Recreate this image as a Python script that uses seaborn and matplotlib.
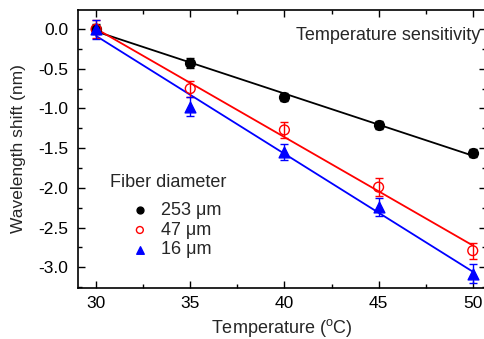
import numpy as np
import pandas as pd
import matplotlib
matplotlib.use("Agg")
import matplotlib.pyplot as plt
import seaborn as sns
from matplotlib.ticker import MultipleLocator, FormatStrFormatter

temps = [30, 35, 40, 45, 50]
series_names = ["253 \u03bcm", "47 \u03bcm", "16 \u03bcm"]
shift_253 = [0.0, -0.43, -0.855, -1.21, -1.565]
shift_47 = [0.0, -0.75, -1.27, -1.99, -2.79]
shift_16 = [0.0, -0.98, -1.55, -2.24, -3.08]
err_253 = [0.06, 0.06, 0.05, 0.05, 0.05]
err_47 = [0.11, 0.1, 0.1, 0.11, 0.1]
err_16 = [0.12, 0.12, 0.1, 0.11, 0.12]

sns.set_theme(style="ticks")
plt.rcParams['font.family'] = ['Liberation Sans', 'DejaVu Sans']
plt.rcParams['mathtext.fontset'] = 'custom'
plt.rcParams['mathtext.rm'] = 'Liberation Sans'
plt.rcParams['axes.unicode_minus'] = False

W, H = 484, 339
fig = plt.figure(figsize=(W / 100, H / 100), dpi=100)
ax = fig.add_axes([78 / W, 1 - 288 / H, 1.004 - 78 / W, (288 - 10) / H])

colors = ["black", "red", "blue"]
markers = ["o", "o", "^"]
facecols = ["black", "none", "blue"]
ys = [shift_253, shift_47, shift_16]
errs = [err_253, err_47, err_16]

for name, y, e, c, m, fc in zip(series_names, ys, errs, colors, markers, facecols):
    df = pd.DataFrame({"T": temps, "shift": y})
    sns.regplot(data=df, x="T", y="shift", scatter=False, ci=None, color=c,
                line_kws={"lw": 1.3}, truncate=True, ax=ax)
    ax.errorbar(temps, y, yerr=e, fmt="none", ecolor=c, elinewidth=1,
                capsize=3, capthick=1, zorder=3)
    ax.scatter(temps, y, marker=m, s=50 if m == "o" else 60, facecolors=fc,
               edgecolors=c, linewidths=1, zorder=4, label=name)

ax.set_xlim(29.04, 50.7)
ax.set_ylim(-3.26, 0.24)
ax.xaxis.set_major_locator(MultipleLocator(5))
ax.xaxis.set_minor_locator(MultipleLocator(2.5))
ax.yaxis.set_major_locator(MultipleLocator(0.5))
ax.yaxis.set_minor_locator(MultipleLocator(0.25))
ax.yaxis.set_major_formatter(FormatStrFormatter('%.1f'))
ax.tick_params(which="both", direction="in", top=True, right=True, labelsize=12.5,
               colors="black", width=1)
ax.tick_params(axis="x", pad=6)
ax.tick_params(axis="y", pad=7)
ax.tick_params(which="major", length=5)
ax.tick_params(which="minor", length=3)
for s in ax.spines.values():
    s.set_linewidth(1.2)
    s.set_color("black")

ax.set_xlabel("Temperature ($^{\\rm o}$C)", fontsize=13, labelpad=4)
ax.set_ylabel("Wavelength shift (nm)", fontsize=12.5, labelpad=9)

ax.text(480 / W, 1 - 36 / H, "Temperature sensitivity", transform=fig.transFigure,
        ha="right", va="center", fontsize=13)

fig.text(110 / W, 1 - 183 / H, "Fiber diameter", ha="left", va="center", fontsize=13)
leg = ax.legend(loc="upper left", bbox_to_anchor=(120 / W, 1 - 193 / H),
                bbox_transform=fig.transFigure, frameon=False, fontsize=13,
                borderpad=0, handlelength=1.2, handletextpad=0.55,
                labelspacing=0.15, markerscale=0.7)

fig.savefig("out.png", dpi=100)
